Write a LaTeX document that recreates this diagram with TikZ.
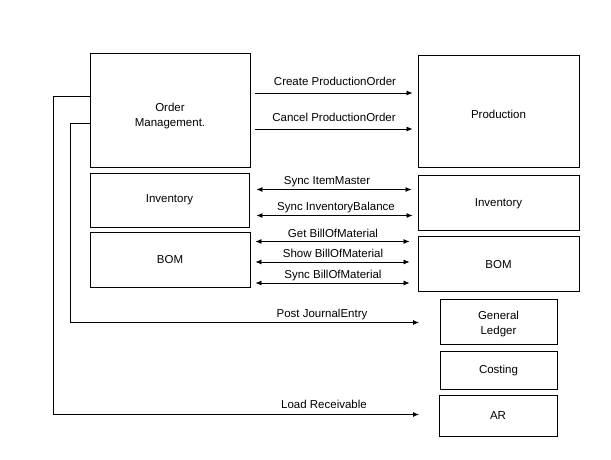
\documentclass[tikz,border=0pt]{standalone}
\usepackage{fontspec}
\setmainfont{Liberation Sans}
\usetikzlibrary{arrows.meta}
\begin{document}
\begin{tikzpicture}[x=1pt,y=-1pt,
  box/.style={draw=black,line width=0.9pt,inner sep=0pt,align=center,font=\fontsize{11.5}{15}\selectfont},
  lbl/.style={font=\fontsize{11.5}{13}\selectfont,anchor=base,inner sep=0pt},
  arr/.style={line width=0.8pt,-{Latex[length=6pt,width=5pt]}},
  darr/.style={line width=0.8pt,{Latex[length=6pt,width=5pt]}-{Latex[length=6pt,width=5pt]}}]
\useasboundingbox (0,0) rectangle (611,459);
% boxes
\node[box,minimum width=160pt,minimum height=114pt] (om) at (170,110) {};
\node[box,minimum width=161pt,minimum height=112pt] (prod) at (498.5,111) {};
\node[box,minimum width=159pt,minimum height=54pt] (invl) at (169.5,200) {};
\node[box,minimum width=161pt,minimum height=55pt] (invr) at (498.5,202.5) {};
\node[box,minimum width=160pt,minimum height=55pt] (boml) at (170,260) {};
\node[box,minimum width=161pt,minimum height=55pt] (bomr) at (498.5,263.5) {};
\node[box,minimum width=117pt,minimum height=45pt] (gl) at (498.5,321.5) {};
\node[box,minimum width=117pt,minimum height=38pt] (cost) at (498.5,370) {};
\node[box,minimum width=118pt,minimum height=41pt] (ar) at (498,415.5) {};
% box texts
\node[box,draw=none] (tom) at ([yshift=-6pt]om.center) {Order\\Management.};
\node[box,draw=none] (tprod) at ([yshift=-3pt]prod.center) {Production};
\node[box,draw=none] (tinvl) at (invl.center) {Inventory};
\node[box,draw=none] (tinvr) at ([yshift=-1pt]invr.center) {Inventory};
\node[box,draw=none] (tboml) at (boml.center) {BOM};
\node[box,draw=none] (tbomr) at ([yshift=-1pt]bomr.center) {BOM};
\node[box,draw=none] (tgl) at ([yshift=-3pt]gl.center) {General\\Ledger};
\node[box,draw=none] (tcost) at ([yshift=-1pt]cost.center) {Costing};
\node[box,draw=none] (tar) at (ar.center) {AR};
% arrows
\draw[arr,shorten <=5pt,shorten >=5pt] (om.east |- 0,93) -- (prod.west |- 0,93);
\node[lbl] (l1) at (335,85) {Create ProductionOrder};
\draw[arr,shorten <=5pt,shorten >=5pt] (om.east |- 0,129) -- (prod.west |- 0,129);
\node[lbl] (l2) at (334,121) {Cancel ProductionOrder};
\draw[darr,shorten <=7pt,shorten >=6pt] (invl.east |- 0,189.5) -- (invr.west |- 0,189.5);
\node[lbl] (l3) at (327,184) {Sync ItemMaster};
\draw[darr,shorten <=7pt,shorten >=5pt] (invl.east |- 0,215.5) -- (invr.west |- 0,215.5);
\node[lbl] (l4) at (336,210) {Sync InventoryBalance};
\draw[darr,shorten <=5pt,shorten >=8pt] (boml.east |- 0,241.5) -- (bomr.west |- 0,241.5);
\node[lbl] (l5) at (333,237) {Get BillOfMaterial};
\draw[darr,shorten <=5pt,shorten >=8pt] (boml.east |- 0,262) -- (bomr.west |- 0,262);
\node[lbl] (l6) at (333,257) {Show BillOfMaterial};
\draw[darr,shorten <=5pt,shorten >=8pt] (boml.east |- 0,283) -- (bomr.west |- 0,283);
\node[lbl] (l7) at (333,278) {Sync BillOfMaterial};
% feedback connectors
\coordinate (pj) at (419,322.5);
\coordinate (lr) at (419,414.5);
\draw[arr] (om.west |- 0,123) -| (70.5,322.5) -- (pj);
\node[lbl] (l8) at (322,317) {Post JournalEntry};
\draw[arr] (om.west |- 0,96.5) -| (53,414.5) -- (lr);
\node[lbl] (l9) at (324,408) {Load Receivable};
\end{tikzpicture}
\end{document}
